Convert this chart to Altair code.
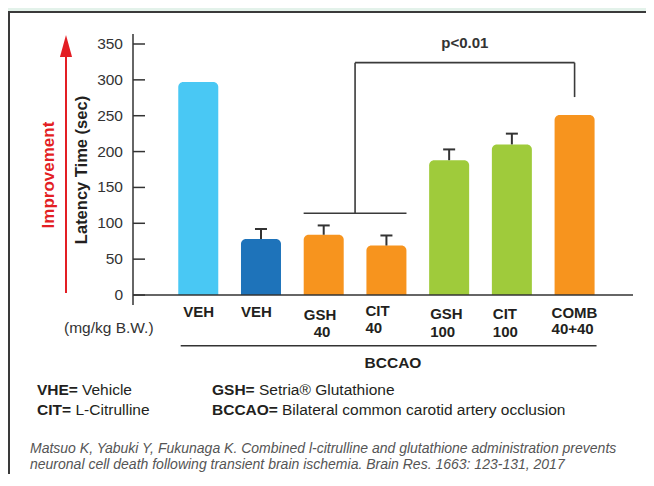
import altair as alt
import pandas as pd

# ---------------- data ----------------
label_top = ["VEH", "VEH", "GSH", "CIT", "GSH", "CIT", "COMB"]
label_bottom = ["", "", "40", "40", "100", "100", "40+40"]
latency = [297, 78, 84, 69, 188, 210, 251]
err_top = [None, 92, 97, 83, 203, 225, None]
bar_colors = ["#49C8F4", "#1E73BA", "#F7941E", "#F7941E", "#9FCB3B", "#9FCB3B", "#F7941E"]
y_ticks = [0, 50, 100, 150, 200, 250, 300, 350]

# significance bracket (in data units)
bracket_low = 114
bracket_high = 324
bracket_right_end = 276

FONT = "Liberation Sans"
DARK = "#333333"

# plot area origin on the page: (133, 34)
def PX(x):
    return x - 133

def PY(y):
    return y - 34

# layout offsets of the category labels (pixels)
top_dx = [-15, -20, -20, -21, -19, -19, -23]
bot_dx = [0, 0, -10, -21, -19, -19, -23]
top_base = [317, 317, 319.5, 316, 319, 319, 318]
bot_base = [0, 0, 336.5, 333, 336.5, 336.5, 334]

bars_df = pd.DataFrame({
    "idx": list(range(len(latency))),
    "val": latency,
    "err": err_top,
    "color": bar_colors,
})
err_df = bars_df.dropna(subset=["err"])
ticks_df = pd.DataFrame({"t": y_ticks, "lab": [str(v) for v in y_ticks]})
one = pd.DataFrame({"a": [0]})

xs = alt.Scale(domain=[-0.9609, 6.8516], nice=False, zero=False)
ys = alt.Scale(domain=[-13.94, 363.94], nice=False, zero=False)

layers = []

# frame: white panel + top and left border lines
layers.append(
    alt.Chart(one).mark_rect(fill="white", strokeWidth=0).encode(
        x=alt.value(PX(8)), x2=alt.value(PX(700)), y=alt.value(PY(11)), y2=alt.value(PY(560))
    )
)
layers.append(
    alt.Chart(one).mark_rule(color="#3a3a3a", strokeWidth=2).encode(
        x=alt.value(PX(8)), x2=alt.value(PX(700)), y=alt.value(PY(12))
    )
)
layers.append(
    alt.Chart(one).mark_rule(color="#3a3a3a", strokeWidth=2).encode(
        x=alt.value(PX(9)), y=alt.value(PY(11)), y2=alt.value(PY(560))
    )
)

# bars
layers.append(
    alt.Chart(bars_df).mark_bar(width=40, cornerRadiusTopLeft=5, cornerRadiusTopRight=5).encode(
        x=alt.X("idx:Q", scale=xs, axis=None),
        y=alt.Y("val:Q", scale=ys, axis=None),
        y2=alt.datum(0),
        color=alt.Color("color:N", scale=None),
    )
)

# error bars
layers.append(
    alt.Chart(err_df).mark_rule(color=DARK, strokeWidth=2).encode(
        x=alt.X("idx:Q", scale=xs, axis=None),
        y=alt.Y("val:Q", scale=ys, axis=None),
        y2="err:Q",
    )
)
layers.append(
    alt.Chart(err_df).mark_tick(orient="horizontal", size=12, thickness=2, color=DARK, opacity=1).encode(
        x=alt.X("idx:Q", scale=xs, axis=None),
        y=alt.Y("err:Q", scale=ys, axis=None),
    )
)

# y axis: domain line, inward ticks, labels
layers.append(
    alt.Chart(one).mark_rule(color=DARK, strokeWidth=1.5).encode(
        x=alt.value(0), y=alt.value(0), y2=alt.value(271)
    )
)
layers.append(
    alt.Chart(ticks_df).mark_rule(color=DARK, strokeWidth=1.5).encode(
        x=alt.value(0), x2=alt.value(12),
        y=alt.Y("t:Q", scale=ys, axis=None),
    )
)
layers.append(
    alt.Chart(ticks_df).mark_text(font=FONT, fontSize=15.5, color=DARK, align="right", baseline="middle").encode(
        x=alt.value(-10),
        y=alt.Y("t:Q", scale=ys, axis=None),
        text="lab:N",
    )
)

# x axis line
layers.append(
    alt.Chart(one).mark_rule(color=DARK, strokeWidth=1.5).encode(
        x=alt.value(0), x2=alt.value(500), y=alt.Y(datum=0, scale=ys, axis=None)
    )
)

# brackets
br_df = pd.DataFrame({
    "x1": [1.68, 2.5, 2.5, 6.0],
    "x2": [3.32, 2.5, 6.0, 6.0],
    "y1": [bracket_low, bracket_low, bracket_high, bracket_high],
    "y2": [bracket_low, bracket_high, bracket_high, bracket_right_end],
})
layers.append(
    alt.Chart(br_df).mark_rule(color="#3a3a3a", strokeWidth=1.6).encode(
        x=alt.X("x1:Q", scale=xs, axis=None), x2="x2:Q",
        y=alt.Y("y1:Q", scale=ys, axis=None), y2="y2:Q",
    )
)
layers.append(
    alt.Chart(pd.DataFrame({"x": [4.25]})).mark_text(
        text="p<0.01", font=FONT, fontSize=15, fontWeight="bold", color=DARK, align="center", baseline="alphabetic"
    ).encode(x=alt.X("x:Q", scale=xs, axis=None), y=alt.value(PY(48)))
)

# category labels
for i in range(len(label_top)):
    d = pd.DataFrame({"idx": [i]})
    layers.append(
        alt.Chart(d).mark_text(
            text=label_top[i], font=FONT, fontSize=15, fontWeight="bold", color="#231F20",
            align="left", baseline="alphabetic", dx=top_dx[i]
        ).encode(x=alt.X("idx:Q", scale=xs, axis=None), y=alt.value(PY(top_base[i])))
    )
    if label_bottom[i]:
        layers.append(
            alt.Chart(d).mark_text(
                text=label_bottom[i], font=FONT, fontSize=15, fontWeight="bold", color="#231F20",
                align="left", baseline="alphabetic", dx=bot_dx[i]
            ).encode(x=alt.X("idx:Q", scale=xs, axis=None), y=alt.value(PY(bot_base[i])))
        )


def txt(t, x, y, size=15.5, weight="normal", color="#231F20", align="left",
        angle=0, style="normal", baseline="alphabetic"):
    return alt.Chart(one).mark_text(
        text=t, font=FONT, fontSize=size, fontWeight=weight, color=color, align=align,
        baseline=baseline, angle=angle, fontStyle=style
    ).encode(x=alt.value(x), y=alt.value(y))


# BCCAO group line + label
layers.append(
    alt.Chart(pd.DataFrame({"a": [-0.28], "b": [6.35]})).mark_rule(color=DARK, strokeWidth=1.5).encode(
        x=alt.X("a:Q", scale=xs, axis=None), x2="b:Q", y=alt.value(PY(345.7))
    )
)
layers.append(txt("BCCAO", PX(393), PY(368), size=15.5, weight="bold", align="center"))
layers.append(txt("(mg/kg B.W.)", PX(64), PY(333), size=15.5, color=DARK))

# y title and improvement arrow
layers.append(txt("Latency Time (sec)", PX(82), PY(170), size=16.5, weight="bold", align="center",
                  angle=270, baseline="middle"))
layers.append(txt("Improvement", PX(49), PY(175), size=17, weight="bold", color="#E31E24",
                  align="center", angle=270, baseline="middle"))
layers.append(
    alt.Chart(one).mark_rule(color="#E31E24", strokeWidth=2).encode(
        x=alt.value(PX(66)), y=alt.value(PY(55)), y2=alt.value(PY(293))
    )
)
layers.append(
    alt.Chart(one).mark_point(shape="M0,-1L0.55,1L-0.55,1Z", size=484, filled=True,
                              color="#E31E24", opacity=1, strokeWidth=0).encode(
        x=alt.value(PX(66)), y=alt.value(PY(46))
    )
)

# abbreviations legend
layers.append(txt("VHE=", PX(37), PY(395), weight="bold"))
layers.append(txt("Vehicle", PX(82), PY(395)))
layers.append(txt("CIT=", PX(37), PY(415), weight="bold"))
layers.append(txt("L-Citrulline", PX(75.5), PY(415)))
layers.append(txt("GSH=", PX(212), PY(395), weight="bold"))
layers.append(txt("Setria® Glutathione", PX(259), PY(395)))
layers.append(txt("BCCAO=", PX(212), PY(415), weight="bold"))
layers.append(txt("Bilateral common carotid artery occlusion", PX(282), PY(415)))

# citation
layers.append(txt("Matsuo K, Yabuki Y, Fukunaga K. Combined l-citrulline and glutathione administration prevents",
                  PX(30), PY(453), size=14, color="#555555", style="italic"))
layers.append(txt("neuronal cell death following transient brain ischemia. Brain Res. 1663: 123-131, 2017",
                  PX(30), PY(469), size=14, color="#555555", style="italic"))

chart = alt.layer(*layers).properties(
    width=500, height=271,
    padding={"left": 125, "top": 26, "right": 13, "bottom": 169},
    autosize=alt.AutoSizeParams(type="none"),
    background="#E3F2EA",
).configure_view(stroke=None)

chart.save("out.html", embed_options={"renderer": "svg", "actions": False})
